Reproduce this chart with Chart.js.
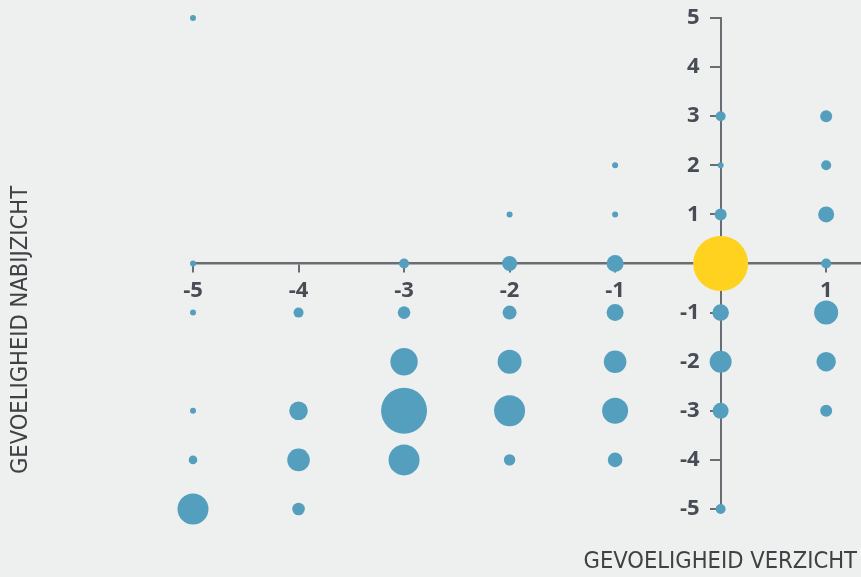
<!DOCTYPE html>
<html>
<head>
<meta charset="utf-8">
<script src="https://cdn.jsdelivr.net/npm/chart.js@4"></script>
<style>
  html, body { margin: 0; padding: 0; background: #eef0ef; }
  #wrap { width: 861px; height: 577px; position: relative; }
</style>
</head>
<body>
<div id="wrap"><canvas id="myChart" width="861" height="577"></canvas></div>
<script>
// blue bubbles: x, y, radius (px)
const blueX = [-5, -5, -5, -5, -5, -5, -4, -4, -4, -4, -3, -3, -3, -3, -3, -2, -2, -2, -2, -2, -2, -1, -1, -1, -1, -1, -1, -1, 0, 0, 0, 0, 0, 0, 0, 1, 1, 1, 1, 1, 1, 1];
const blueY = [5, 0, -1, -3, -4, -5, -1, -3, -4, -5, 0, -1, -2, -3, -4, 1, 0, -1, -2, -3, -4, 2, 1, 0, -1, -2, -3, -4, 3, 2, 1, -1, -2, -3, -5, 3, 2, 1, 0, -1, -2, -3];
const blueR = [3, 3, 3, 3, 4.3, 15.5, 5, 9.3, 11.3, 6.3, 5, 6.3, 13.7, 23, 15.5, 3, 7.5, 7, 12, 15.5, 5.7, 3, 3, 8.5, 8.5, 11.3, 13, 7.3, 5, 3, 6, 8.3, 11, 8, 5, 6, 5, 8, 5, 12, 9.7, 6];

// yellow bubble
const yellowX = [0];
const yellowY = [0];
const yellowR = [27.5];

const xTicks = [-5, -4, -3, -2, -1, 1];
const yTicks = [-5, -4, -3, -2, -1, 1, 2, 3, 4, 5];

const xTitle = 'GEVOELIGHEID VERZICHT';
const yTitle = 'GEVOELIGHEID NABIJZICHT';

function toPoints(xs, ys, rs) {
    let pts = [];
    for (let i = 0; i < xs.length; i++) {
        pts.push({ x: xs[i], y: ys[i], r: rs[i] });
    }
    return pts;
}

const axisTitles = {
    id: 'axisTitles',
    afterDraw(chart) {
        const ctx = chart.ctx;
        ctx.save();
        ctx.fillStyle = '#3f4144';
        ctx.font = '300 23.5px "Liberation Sans Narrow", "DejaVu Sans Condensed", sans-serif';
        ctx.textAlign = 'right';
        ctx.textBaseline = 'alphabetic';
        ctx.fillText(xTitle, 857, 568);
        ctx.translate(27, 330);
        ctx.rotate(-Math.PI / 2);
        ctx.textAlign = 'center';
        ctx.fillText(yTitle, 0, 0);
        ctx.restore();
    }
};

const axisColor = '#6a6e73';
const labelColor = '#474c55';
const tickFont = { family: '"Open Sans", sans-serif', size: 22, weight: 'bold' };

new Chart(document.getElementById('myChart'), {
    type: 'bubble',
    data: {
        datasets: [{
            data: toPoints(blueX, blueY, blueR),
            backgroundColor: '#559fbe',
            borderWidth: 0,
            clip: false
        }, {
            data: toPoints(yellowX, yellowY, yellowR),
            backgroundColor: '#ffd220',
            borderWidth: 0,
            clip: false
        }]
    },
    options: {
        responsive: false,
        animation: false,
        events: [],
        layout: {
            autoPadding: false,
            padding: { left: 193, right: 0, top: 18, bottom: 68 }
        },
        plugins: {
            legend: { display: false },
            tooltip: { enabled: false }
        },
        scales: {
            x: {
                type: 'linear',
                min: -5,
                max: 1.33,
                position: { y: 0 },
                z: 1,
                afterBuildTicks: (scale) => { scale.ticks = xTicks.map(v => ({ value: v })); },
                grid: { drawOnChartArea: false, drawTicks: true, tickLength: 8, color: axisColor, lineWidth: 2 },
                border: { display: true, color: axisColor, width: 2.5 },
                ticks: { color: labelColor, padding: 6, maxRotation: 0, font: tickFont }
            },
            y: {
                type: 'linear',
                min: -5,
                max: 5,
                position: { x: 0 },
                z: 1,
                afterBuildTicks: (scale) => { scale.ticks = yTicks.map(v => ({ value: v })); },
                grid: { drawOnChartArea: false, drawTicks: true, tickLength: 10, color: axisColor, lineWidth: 2 },
                border: { display: true, color: axisColor, width: 2 },
                ticks: { display: false }
            },
            // carries only the y tick labels, placed left of the tick marks
            yLabels: {
                type: 'linear',
                axis: 'y',
                min: -5,
                max: 5,
                position: { x: -0.2 },
                afterBuildTicks: (scale) => { scale.ticks = yTicks.map(v => ({ value: v })); },
                grid: { display: false, drawTicks: false },
                border: { display: false },
                ticks: { color: labelColor, padding: 0, font: tickFont }
            }
        }
    },
    plugins: [axisTitles]
});
</script>
</body>
</html>
